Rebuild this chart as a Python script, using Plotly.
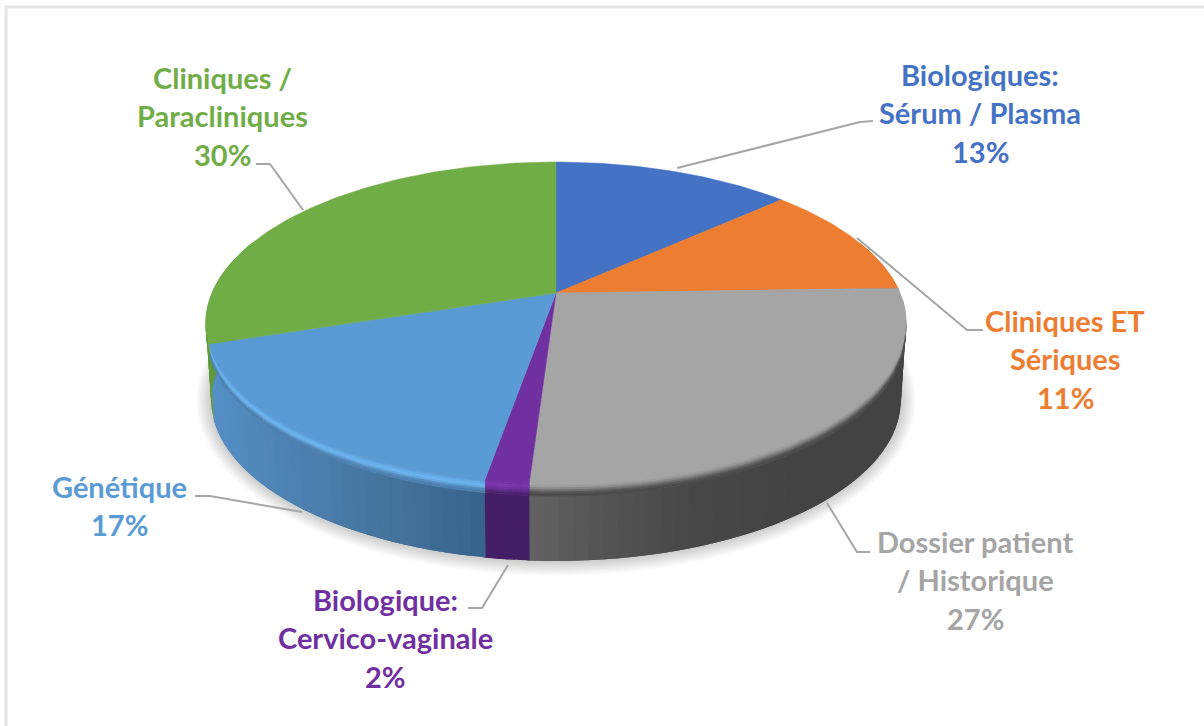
import numpy as np
import plotly.graph_objects as go

# ---- data ----
label_lines = [
    ["Biologiques:", "Sérum / Plasma"],
    ["Cliniques ET", "Sériques"],
    ["Dossier patient", "/ Historique"],
    ["Biologique:", "Cervico-vaginale"],
    ["Génétique"],
    ["Cliniques /", "Paracliniques"],
]
values = [13.2, 11.3, 26.51, 1.7, 17.29, 30]
colors = ["#4472c4", "#ed7d31", "#a5a5a5", "#7030a0", "#5b9bd5", "#70ad47"]
text_colors = ["#4472c4", "#ed7d31", "#a5a5a5", "#7030a0", "#5b9bd5", "#70ad47"]

# label placement: centre x, y of first line
label_pos = [(980, 74), (1065, 320), (975, 541), (385, 599), (119, 486), (222, 77)]
LINE_STEP = 38.7
leaders = [
    [(677, 168), (860, 122), (873, 121)],
    [(857, 238), (967, 330), (983, 330)],
    [(827, 503), (857, 552), (870, 552)],
    [(508, 565), (482, 608), (468, 608)],
    [(302, 512), (210, 496), (195, 496)],
    [(303, 210), (270, 164), (256, 164)],
]

# side-wall colour ramps, (x pixel, colour)
side_ramps = [
    [(0, "#34568f"), (1204, "#34568f")],
    [(0, "#a85a25"), (1204, "#a85a25")],
    [(532, "#626262"), (600, "#545454"), (700, "#474747"), (800, "#434343"), (1204, "#444444")],
    [(0, "#451f66"), (1204, "#451f66")],
    [(205, "#5590c6"), (300, "#4c80b0"), (400, "#437299"), (484, "#37628c")],
    [(0, "#5f9a3a"), (1204, "#5f9a3a")],
]
# bevel colours from flat face edge to the side wall
bevel_ramps = [
    ["#4472c4", "#34568f"],
    ["#ed7d31", "#a85a25"],
    ["#a5a5a5", "#a0a0a0", "#8a8a8a", "#6a6a6a", "#4e4e4e", "#474747"],
    ["#7030a0", "#7a36aa", "#7030a0", "#5a2785", "#451f66"],
    ["#5b9bd5", "#63aae6", "#6cb6f2", "#62a4dc", "#5084b4", "#4a7ba8"],
    ["#70ad47", "#7cbc50", "#6aa544", "#5f9a3a"],
]

# ---- projection of the disc (perspective view) ----
CX, CY = 556, 293
A, K, B = 155.4, 0.1864, 344.0
BEVEL, DEPTH = 12.0, 77.0
BOTTOM_SHRINK = 0.015


def rim(t, d=0.0):
    r = np.radians(t)
    X, Y = np.sin(r), np.cos(r)
    den = 1 + K * Y
    s = 1 - BOTTOM_SHRINK * d / DEPTH
    return CX + s * B * X / den, CY - A * Y / den + d


def hex2rgb(c):
    return np.array([int(c[i:i + 2], 16) for i in (1, 3, 5)], float)


def rgb(v):
    return "rgb(%d,%d,%d)" % tuple(int(round(x)) for x in v)


def ramp_x(ramp, x):
    xs = [p[0] for p in ramp]
    cs = np.array([hex2rgb(p[1]) for p in ramp])
    return rgb([np.interp(x, xs, cs[:, i]) for i in range(3)])


def ramp_u(cols, u):
    cs = np.array([hex2rgb(c) for c in cols])
    pos = np.linspace(0, 1, len(cols))
    return rgb([np.interp(u, pos, cs[:, i]) for i in range(3)])


fig = go.Figure()


def poly(xs, ys, col, lw=1.0):
    xs, ys = list(xs), list(ys)
    fig.add_trace(go.Scatter(
        x=xs + xs[:1], y=ys + ys[:1], mode="lines", fill="toself", fillcolor=col,
        line=dict(color=col, width=lw), hoverinfo="skip", showlegend=False))


# slice angles
edges = np.concatenate([[0], np.cumsum(values)]) / np.sum(values) * 360
spans = list(zip(edges[:-1], edges[1:]))

# soft shadow below the disc
ts = np.linspace(0, 360, 181)
for i in range(12):
    g = 15 - i * 1.2
    x0, y0 = rim(ts, DEPTH)
    xs = CX + (x0 - CX) * (1 + g / 345)
    ys = (CY + 105) + (y0 - (CY + 105)) * (1 + g / 165)
    fig.add_trace(go.Scatter(x=xs, y=ys, mode="lines", fill="toself",
                             fillcolor="rgba(0,0,0,0.016)", line=dict(width=0),
                             hoverinfo="skip", showlegend=False))

# side wall, only the part turned to the viewer; each piece runs under the next one
for (a0, a1), ramp in zip(spans, side_ramps):
    lo, hi = max(a0, 70), min(a1, 290)
    if lo >= hi:
        continue
    n = max(1, int((hi - lo) / 2))
    cuts = np.linspace(lo, hi, n + 1)
    step = cuts[1] - cuts[0]
    for t0, t1 in zip(cuts[:-1], cuts[1:]):
        end = min(t1 + step, hi + 0.3)
        tt = np.linspace(t0, end, 5)
        xa, ya = rim(tt, BEVEL)
        xb, yb = rim(tt[::-1], DEPTH)
        colx = float(np.mean(rim(np.array([t0, t1]), BEVEL)[0]))
        poly(np.r_[xa, xb], np.r_[ya, yb], ramp_x(ramp, colx), lw=0)

# bevel band between face and wall
LAYERS = 6
for (a0, a1), cols in zip(spans, bevel_ramps):
    lo, hi = max(a0, 70), min(a1, 290)
    if lo >= hi:
        continue
    tt = np.linspace(lo, hi, 40)
    for j in range(LAYERS):
        d0 = BEVEL * j / LAYERS
        d1 = BEVEL * (j + 1) / LAYERS
        xa, ya = rim(tt, d0)
        xb, yb = rim(tt[::-1], d1)
        poly(np.r_[xa, xb], np.r_[ya, yb], ramp_u(cols, (j + .5) / LAYERS), lw=0.8)

# flat top face
for (a0, a1), col in zip(spans, colors):
    tt = np.linspace(a0, a1, max(8, int(a1 - a0)))
    xa, ya = rim(tt)
    poly(np.r_[CX, xa], np.r_[CY, ya], col, lw=0.5)

# leader lines
for pts in leaders:
    fig.add_trace(go.Scatter(x=[p[0] for p in pts], y=[p[1] for p in pts], mode="lines",
                             line=dict(color="#a6a6a6", width=2), hoverinfo="skip",
                             showlegend=False))

# labels
annotations = []
for lines, v, (lx, ly), c in zip(label_lines, values, label_pos, text_colors):
    for i, s in enumerate(lines + [f"{round(v)}%"]):
        annotations.append(dict(
            x=lx, y=ly + i * LINE_STEP, text=s, showarrow=False, xanchor="center", yanchor="middle",
            font=dict(family="Lato", size=29, color=c, weight=700)))

fig.update_layout(
    width=1204, height=726, margin=dict(l=0, r=0, t=0, b=0),
    paper_bgcolor="white", plot_bgcolor="white",
    xaxis=dict(range=[0, 1204], visible=False, fixedrange=True),
    yaxis=dict(range=[726, 0], visible=False, fixedrange=True),
    annotations=annotations,
    shapes=[dict(type="rect", x0=6, y0=7, x1=1230, y1=760, line=dict(color="#e4e4e4", width=3), layer="below")],
)
fig.write_html("out.html", post_script="document.body.style.margin='0';", config={"displayModeBar": False})
